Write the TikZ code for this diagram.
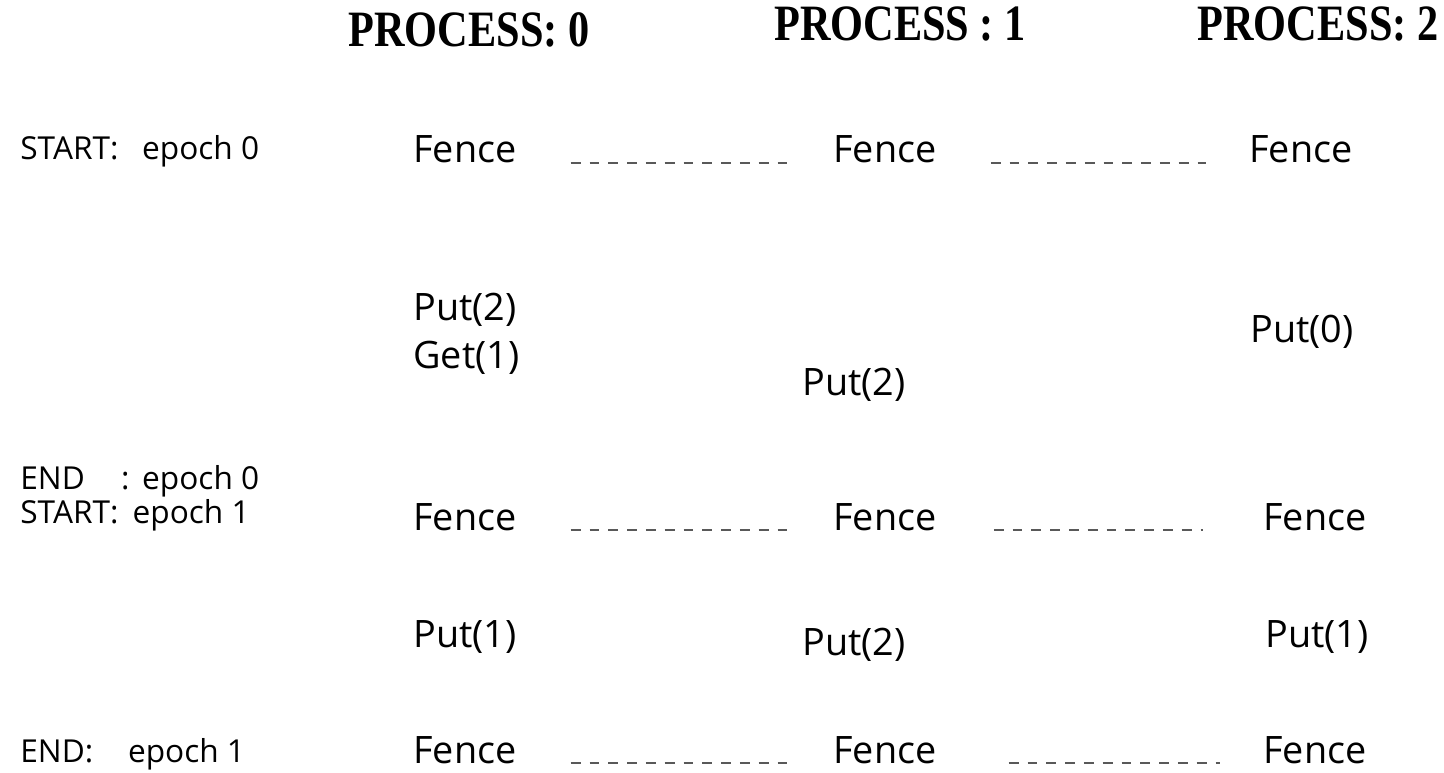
\documentclass[tikz,border=0pt]{standalone}
\usepackage{fontspec}
\setmainfont{Open Sans}
\newfontfamily\headfont{Liberation Serif}
\usetikzlibrary{positioning}

\tikzset{
  head/.style={anchor=base, inner sep=0pt, font=\headfont\fontsize{29}{32}\bfseries, xscale=0.83},
  fence/.style={anchor=base west, inner sep=0pt, font=\fontsize{21.5}{24}\selectfont},
  op/.style={fence},
  epoch/.style={anchor=base west, inner sep=0pt, font=\fontsize{18}{21}\selectfont},
  sync/.style={draw=black!65, line width=1.3pt, dash pattern=on 5.6pt off 5.1pt,
    shorten <=1.08cm, shorten >=0.86cm},
}

\begin{document}
\begin{tikzpicture}[x=0.02cm, y=-0.02cm]
	\path[use as bounding box] (0,0) rectangle (1444,773);

	% process headings
	\node[head] (h0) at (469,47) {PROCESS: 0};
	\node[head] (h1) at (900,41) {PROCESS : 1};
	\node[head] (h2) at (1318,41) {PROCESS: 2};

	% epoch labels
	\node[epoch] (s0) at (20,160) {START:\hspace{0.75em}epoch 0};
	\node[epoch] (e0) at (20,490) {END\hspace{1.15em}:\hspace{0.4em}epoch 0};
	\node[epoch] (s1) at (20,523) {START:\hspace{0.45em}epoch 1};
	\node[epoch] (e1) at (20,762) {END:\hspace{1.1em}epoch 1};

	% fences, one row per synchronisation point
	\node[fence] (f00) at (413,163) {Fence};
	\node[fence] (f01) at (833,163) {Fence};
	\node[fence] (f02) at (1249,163) {Fence};

	\node[fence] (f10) at (413,530) {Fence};
	\node[fence] (f11) at (833,530) {Fence};
	\node[fence] (f12) at (1263,530) {Fence};

	\node[fence] (f20) at (413,763) {Fence};
	\node[fence] (f21) at (833,763) {Fence};
	\node[fence] (f22) at (1263,763) {Fence};

	% RMA calls inside epoch 0
	\node[op] (p0a) at (413,321) {Put(2)};
	\node[op] (g0a) at (413,369) {Get(1)};
	\node[op] (p1a) at (802,396) {Put(2)};
	\node[op] (p2a) at (1250,343) {Put(0)};

	% RMA calls inside epoch 1
	\node[op] (p0b) at (413,647) {Put(1)};
	\node[op] (p1b) at (802,655) {Put(2)};
	\node[op] (p2b) at (1265,647) {Put(1)};

	% dashed links between the fences
	\draw[sync] (f00.base east) -- (f01.base west);
	\draw[sync, shorten <=1.08cm] (f01.base east) -- (f02.base west);
	\draw[sync] (f10.base east) -- (f11.base west);
	\draw[sync, shorten <=1.14cm, shorten >=1.2cm] (f11.base east) -- (f12.base west);
	\draw[sync] (f20.base east) -- (f21.base west);
	\draw[sync, shorten <=1.44cm] (f21.base east) -- (f22.base west);
\end{tikzpicture}
\end{document}
